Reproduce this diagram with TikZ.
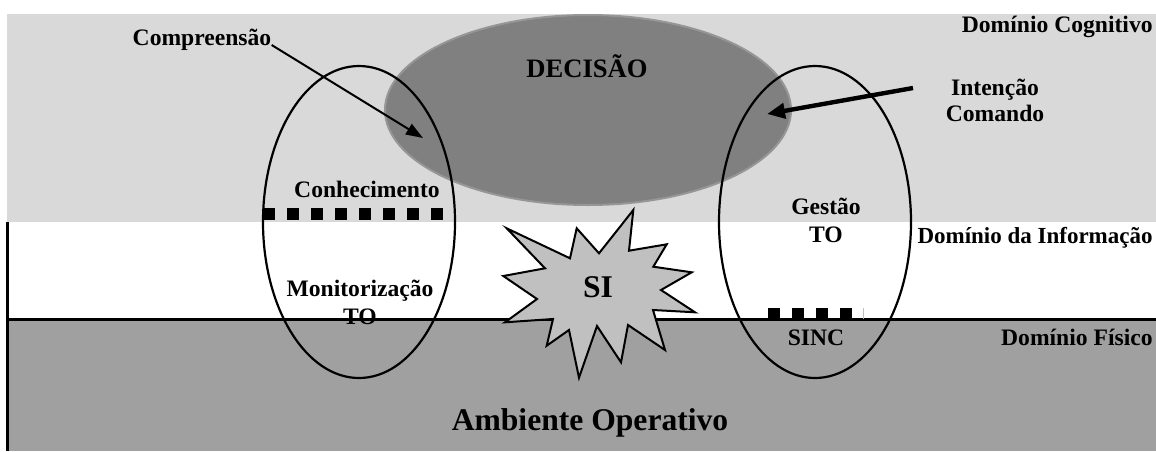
\documentclass[tikz,border=0pt]{standalone}
\usepackage{fontspec}
\setmainfont{Liberation Serif}
\usepackage{tikz}
\usetikzlibrary{shapes.geometric,arrows.meta}
\definecolor{cinzaclaro}{RGB}{217,217,217}
\definecolor{cinzamedio}{RGB}{160,160,160}
\definecolor{cinzaescuro}{RGB}{128,128,128}
\definecolor{cinzaborda}{RGB}{150,150,150}
\definecolor{cinzaestrela}{RGB}{192,192,192}

\begin{document}
\begin{tikzpicture}[x=0.5pt,y=-0.5pt,
    rotulo/.style={font=\bfseries\fontsize{11.8}{14}\selectfont, inner sep=0pt, align=center},
    circulo/.style={draw, ellipse, line width=1.1pt, minimum width=96pt, minimum height=156pt, inner sep=0pt},
    quadrados/.style={line width=6pt, dash pattern=on 6pt off 6pt},
    seta/.style={-{Triangle[length=8.5pt,width=6pt]}, line width=1pt}]
    \useasboundingbox (0,0) rectangle (1156,451);

    % dominios
    \fill[cinzaclaro] (7,14) rectangle (1156,222);
    \fill[cinzamedio] (7,319) rectangle (1156,451);
    \draw[line width=1.5pt] (7,222) -- (7,451);
    \draw[line width=1.5pt] (7,319) -- (1156,319);

    \node[ellipse, fill=cinzaescuro, draw=cinzaborda, line width=1pt, minimum width=203pt, minimum height=95pt] (decisao) at (588,110) {};
    \node[font=\bfseries\fontsize{13.3}{16}\selectfont, inner sep=0pt, anchor=base] (decisaotxt) at (587,77) {DECISÃO};

    \draw[quadrados] (263,214) -- (443,214);
    \draw[quadrados, line width=5.5pt] (768,313.5) -- (852,313.5);
    \draw[gray!50, line width=0.4pt] (863,308) -- (863,319);

    \node[circulo] (monitor) at (359,222) {};
    \node[circulo] (gestor) at (815,222) {};

    % SI
    \filldraw[fill=cinzaestrela, line width=1pt, line join=miter]
        (506.7,228.3) -- (570,258.3) -- (576.7,228.3) -- (599,253.3) -- (633.3,210)
        -- (629,250.7) -- (666.7,244.3) -- (653.3,266.7) -- (691.7,272.3) -- (661,290)
        -- (695,312.3) -- (653,310) -- (665,350) -- (628,325) -- (621,362.3)
        -- (597,326) -- (579,377.7) -- (569,330) -- (546.7,345.7) -- (553,319)
        -- (505,322.3) -- (537,299) -- (503.3,276) -- (545,268.3) -- cycle;
    \node[font=\bfseries\fontsize{15.8}{19}\selectfont, inner sep=0pt, anchor=base] (si) at (598,297) {SI};

    \node[rotulo, anchor=base] (compreensao) at (202,45) {Compreensão};
    \node[rotulo, anchor=base east] (cognitivo) at (1153,32) {Domínio Cognitivo};
    \node[rotulo] (intencao) at (995,100) {Intenção\\[-1pt]Comando};
    \node[rotulo, anchor=base] (conhecimento) at (367,197) {Conhecimento};
    \node[rotulo] (gestao) at (826,220.5) {Gestão\\TO};
    \node[rotulo, font=\bfseries\fontsize{11.5}{14}\selectfont, anchor=base east] (informacao) at (1153,243) {Domínio da Informação};
    \node[rotulo] (monitorizacao) at (360,302.5) {Monitorização\\TO};
    \node[rotulo, anchor=base] (sinc) at (816,345) {SINC};
    \node[rotulo, anchor=base east] (fisico) at (1153,345) {Domínio Físico};
    \node[font=\bfseries\fontsize{15.8}{19}\selectfont, inner sep=0pt, anchor=base] (ambiente) at (590,430) {Ambiente Operativo};

    \coordinate (comptip) at (423,138);
    \coordinate (intorigem) at (913,88);
    \coordinate (inttip) at (767,114);
    \draw[seta] (compreensao.base east) -- (comptip);
    \draw[seta, -{Triangle[length=9pt,width=7.5pt]}, line width=2.2pt] (intorigem) -- (inttip);
\end{tikzpicture}
\end{document}
